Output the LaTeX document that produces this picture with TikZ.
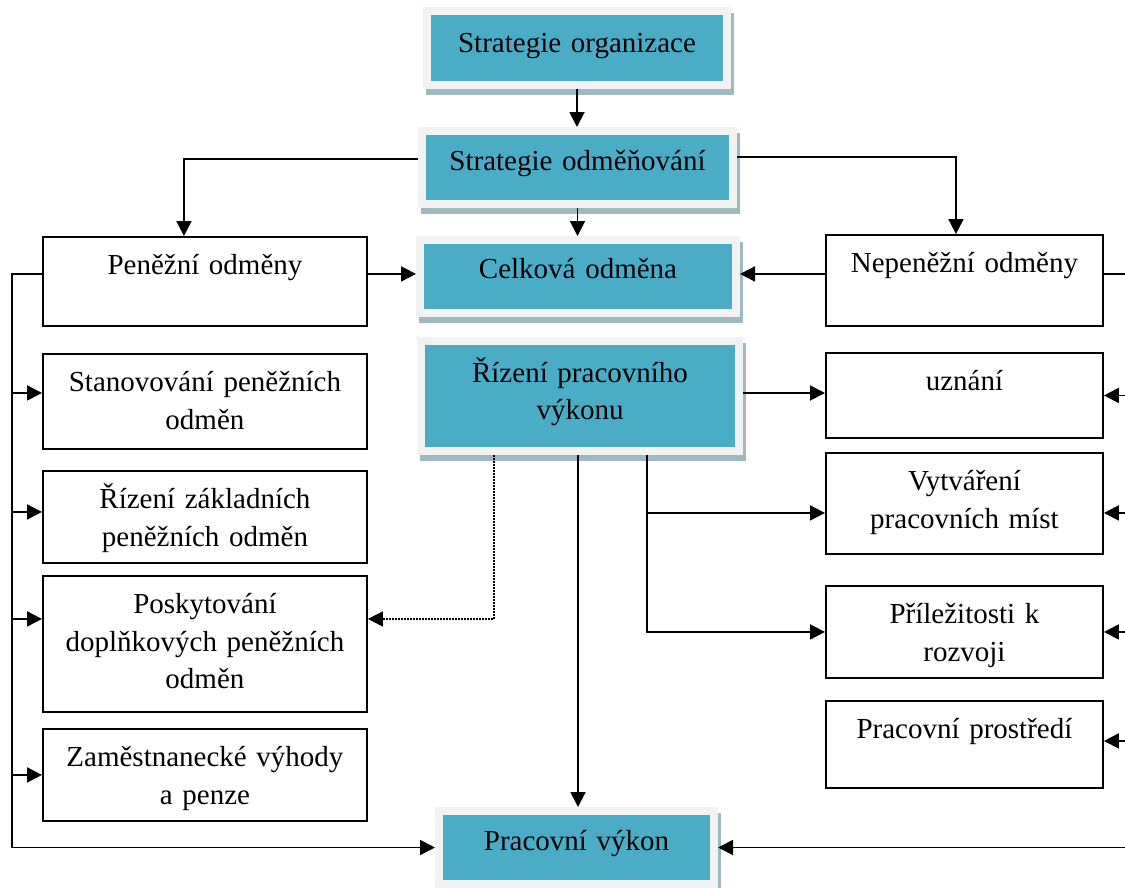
\documentclass[tikz,border=0pt]{standalone}
\usepackage{fontspec}
\setmainfont{Liberation Serif}
\usetikzlibrary{arrows.meta}
\definecolor{tealc}{HTML}{4BACC6}
\definecolor{frameg}{HTML}{F2F2F2}
\definecolor{shadc}{HTML}{A0B8C0}
\begin{document}
\begin{tikzpicture}[x=1bp,y=-1bp,
 txt/.style={font=\fontsize{29bp}{37.5bp}\selectfont},
 wbox/.style={txt, draw=black, line width=1.9bp, fill=white, inner sep=0pt, align=center, anchor=north west, text height=38bp},
 tbox/.style={txt, fill=tealc, draw=frameg, line width=8bp, inner sep=0pt, align=center, anchor=north west,
   preaction={draw=shadc, fill=shadc, line width=8bp, transform canvas={shift={(3bp,-6bp)}}}},
 arr/.style={line width=1.9bp, -{Triangle[length=15bp,width=15bp]}},
 ln/.style={line width=1.9bp}
]
\useasboundingbox (0,0) rectangle (1125,888);
\clip (0,0) rectangle (1125,888);

% teal boxes
\node[tbox, text width=300bp, text height=41bp, text depth=33bp] (so) at (423,7) {Strategie organizace};
\node[tbox, text width=311bp, text height=39bp, text depth=34bp] (sod) at (418,127) {Strategie odměňování};
\node[tbox, text width=316bp, text height=38bp, text depth=35bp] (cel) at (416,236) {Celková odměna};
\node[tbox, text width=318bp, text height=41bp, text depth=69bp] (riz) at (417,337) {Řízení pracovního\\výkonu};
\node[tbox, text width=275bp, text height=39bp, text depth=34bp] (pv) at (435,807) {Pracovní výkon};

% white boxes, left
\node[wbox, text width=324bp, text depth=51bp] (pen) at (42,236) {Peněžní odměny};
\node[wbox, text width=324bp, text depth=57bp] (stan) at (42,353) {Stanovování peněžních\\odměn};
\node[wbox, text width=324bp, text depth=54bp] (rzak) at (42,470) {Řízení základních\\peněžních odměn};
\node[wbox, text width=324bp, text depth=98bp] (posk) at (42,575) {Poskytování\\doplňkových peněžních\\odměn};
\node[wbox, text width=324bp, text depth=54bp] (zam) at (42,728) {Zaměstnanecké výhody\\a penze};

% white boxes, right
\node[wbox, text width=277bp, text depth=53bp] (nep) at (825,234) {Nepeněžní odměny};
\node[wbox, text width=277bp, text depth=47bp] (uzn) at (825,352) {uznání};
\node[wbox, text width=277bp, text depth=63bp] (vytv) at (825,452) {Vytváření\\pracovních míst};
\node[wbox, text width=277bp, text depth=54bp] (pril) at (825,585) {Příležitosti k\\rozvoji};
\node[wbox, text width=277bp, text depth=49bp] (prost) at (825,700) {Pracovní prostředí};

\path ([yshift=7.5bp]pen.west) ++(-30bp,0) coordinate (lt);
\path ([yshift=6.5bp]nep.east) ++(30bp,0) coordinate (rt);
\coordinate (mc) at ([xshift=67bp]riz.south);

% connectors
\draw[arr] (so.south) -- (so.south |- sod.north);
\draw[arr] (sod.south) -- (sod.south |- cel.north);
\draw[arr] ([yshift=8.5bp]sod.west) -| ([xshift=-21bp]pen.north);
\draw[arr] ([yshift=10.5bp]sod.east) -| ([xshift=-8.5bp]nep.north);
\draw[arr] ([yshift=7.5bp]pen.east) -- ([yshift=7.5bp]pen.east -| cel.west);
\draw[arr] ([yshift=6.5bp]nep.west) -- ([yshift=6.5bp]nep.west -| cel.east);

\draw[arr] ([yshift=7.5bp]pen.west) -- (lt) |- (pv.west);
\draw[arr] ([yshift=8.5bp]stan.west -| lt) -- ([yshift=8.5bp]stan.west);
\draw[arr] ([yshift=5bp]rzak.west -| lt) -- ([yshift=5bp]rzak.west);
\draw[arr] ([yshift=25bp]posk.west -| lt) -- ([yshift=25bp]posk.west);
\draw[arr] (zam.west -| lt) -- (zam.west);

\draw[ln] ([yshift=6.5bp]nep.east) -- (rt);
\draw[arr] (rt) |- (pv.east);
\draw[arr] (uzn.east -| rt) -- (uzn.east);
\draw[arr] ([yshift=-9.5bp]vytv.east -| rt) -- ([yshift=-9.5bp]vytv.east);
\draw[arr] (pril.east -| rt) -- (pril.east);
\draw[arr] ([yshift=3.5bp]prost.east -| rt) -- ([yshift=3.5bp]prost.east);

\draw[arr] ([yshift=3bp]riz.east) -- ([yshift=3bp]riz.east -| uzn.west);
\draw[arr] ([xshift=-2bp]riz.south) -- ([xshift=-2bp]riz.south |- pv.north);
\draw[arr] (mc) |- (pril.west);
\draw[arr] ([yshift=-9.5bp]vytv.west -| mc) -- ([yshift=-9.5bp]vytv.west);
\draw[arr, line width=1.5bp, dash pattern=on 1.5bp off 1.5bp] ([xshift=-86bp]riz.south) |- ([yshift=25bp]posk.east);
\end{tikzpicture}
\end{document}
